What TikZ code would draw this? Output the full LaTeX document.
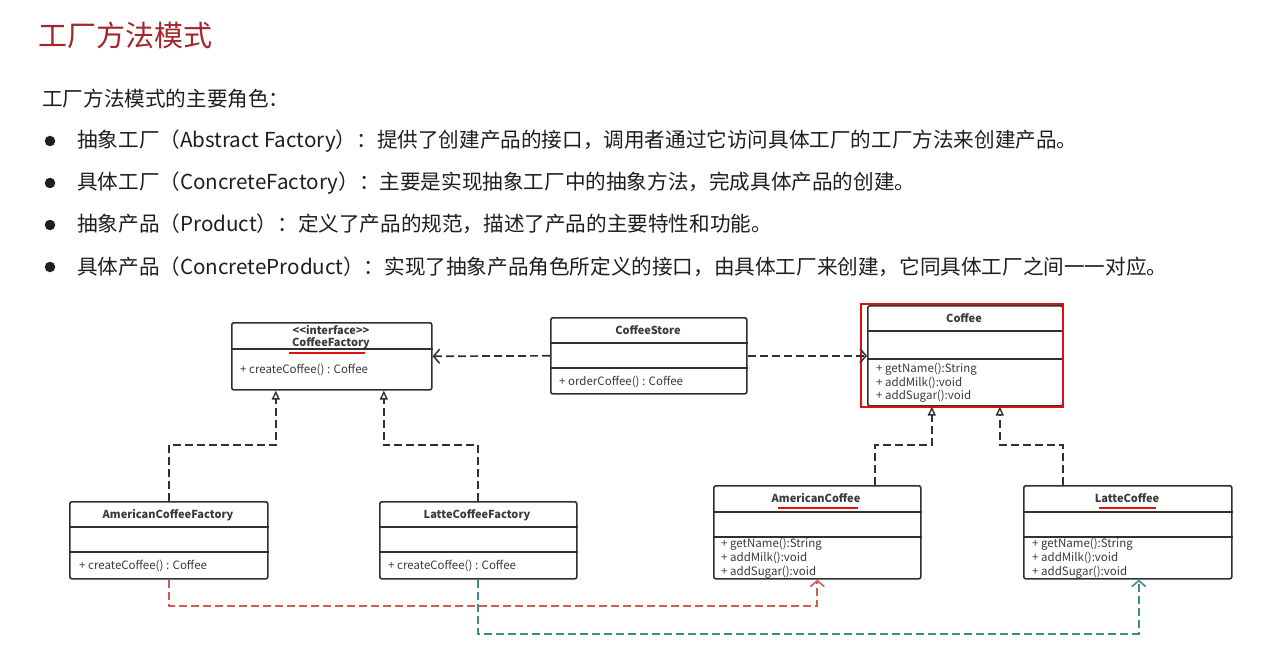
\documentclass[tikz,border=0pt]{standalone}
\usepackage{fontspec}
\setmainfont{Noto Sans CJK SC}
\newfontfamily\uml{Noto Sans CJK SC}
\usetikzlibrary{arrows.meta,calc}
\definecolor{titlered}{HTML}{A3262B}
\definecolor{txt}{HTML}{1E1E1E}
\definecolor{umltxt}{HTML}{3A3A3A}
\definecolor{linec}{HTML}{303030}
\definecolor{mark}{HTML}{E01010}
\definecolor{redl}{HTML}{D45A58}
\definecolor{teal}{HTML}{3E8E8C}
\tikzset{
  box/.style={draw=linec, line width=1.6pt, rounded corners=2pt, fill=white, anchor=north west, inner sep=0pt},
  divl/.style={draw=linec, line width=1.4pt},
  ttl/.style={font=\uml\fontsize{11}{13}\selectfont\bfseries, text=umltxt, inner sep=0pt},
  mth/.style={font=\uml\fontsize{11.5}{13}\selectfont, text=umltxt, anchor=west, inner sep=0pt},
  dep/.style={draw=linec, line width=1.7pt, dash pattern=on 8pt off 4pt, -{Straight Barb[length=6pt,width=14pt,line width=1.5pt]}},
  inh/.style={draw=linec, line width=1.7pt, dash pattern=on 8pt off 4pt, -{Triangle[open,length=9pt,width=8pt,fill=white,line width=1.4pt]}},
  reddep/.style={draw=redl, line width=1.9pt, dash pattern=on 8pt off 4pt, -{Straight Barb[length=6pt,width=14pt,line width=1.6pt]}},
  tealdep/.style={draw=teal, line width=1.9pt, dash pattern=on 8pt off 4pt, -{Straight Barb[length=6pt,width=14pt,line width=1.6pt]}},
  body/.style={font=\fontsize{20.6}{23}\selectfont, text=txt, anchor=base west, inner sep=0pt},
  bullet/.style={circle, fill=txt, inner sep=0pt, minimum size=10.5pt},
  redmark/.style={draw=mark, line width=2.8pt},
}
\begin{document}
\begin{tikzpicture}[x=1pt,y=-1pt]
\useasboundingbox[fill=white] (0,0) rectangle (1266,647);

% heading texts
\node[font=\fontsize{29}{32}\selectfont, text=titlered, anchor=base west, inner sep=0pt] (title) at (38,47) {工厂方法模式};
\node[body] (sub) at (42,107) {工厂方法模式的主要角色：};
\node[bullet] (b1) at (50,141) {};
\node[bullet] (b2) at (50,183) {};
\node[bullet] (b3) at (50,225) {};
\node[bullet] (b4) at (50,267) {};
\node[body] (l1) at (77,148) {抽象工厂（Abstract Factory）：提供了创建产品的接口，调用者通过它访问具体工厂的工厂方法来创建产品。};
\node[body] (l2) at (77,190) {具体工厂（ConcreteFactory）：主要是实现抽象工厂中的抽象方法，完成具体产品的创建。};
\node[body] (l3) at (77,232) {抽象产品（Product）：定义了产品的规范，描述了产品的主要特性和功能。};
\node[body] (l4) at (77,274) {具体产品（ConcreteProduct）：实现了抽象产品角色所定义的接口，由具体工厂来创建，它同具体工厂之间一一对应。};

% CoffeeFactory
\node[box, minimum width=200pt, minimum height=67pt] (cf) at (231,322) {};
\draw[divl] ($(cf.north west)+(0,27)$) -- ($(cf.north east)+(0,27)$);
\node[ttl] (cft1) at (331,330) {<<interface>>};
\node[ttl] (cft2) at (331,343) {CoffeeFactory};
\node[mth] (cfm) at (240,370) {+ createCoffee() : Coffee};
\draw[redmark] (289,353) -- (365,353);

% CoffeeStore
\node[box, minimum width=196pt, minimum height=76pt] (cs) at (550,317) {};
\draw[divl] ($(cs.north west)+(0,26)$) -- ($(cs.north east)+(0,26)$);
\draw[divl] ($(cs.north west)+(0,51)$) -- ($(cs.north east)+(0,51)$);
\node[ttl] (cst) at (648,330) {CoffeeStore};
\node[mth] (csm) at (559,382) {+ orderCoffee() : Coffee};

% Coffee
\node[box, minimum width=195pt, minimum height=100pt] (cof) at (867,305) {};
\draw[divl] ($(cof.north west)+(0,26)$) -- ($(cof.north east)+(0,26)$);
\draw[divl] ($(cof.north west)+(0,54)$) -- ($(cof.north east)+(0,54)$);
\node[ttl] (coft) at (964,318) {Coffee};
\node[mth] (cofm1) at (876,369) {+ getName():String};
\node[mth] (cofm2) at (876,383) {+ addMilk():void};
\node[mth] (cofm3) at (876,396) {+ addSugar():void};
\draw[draw=mark, line width=2.4pt] (861,304) rectangle (1063,407);

% AmericanCoffeeFactory
\node[box, minimum width=198pt, minimum height=77pt] (acf) at (69,501) {};
\draw[divl] ($(acf.north west)+(0,26)$) -- ($(acf.north east)+(0,26)$);
\draw[divl] ($(acf.north west)+(0,51)$) -- ($(acf.north east)+(0,51)$);
\node[ttl] (acft) at (168,515) {AmericanCoffeeFactory};
\node[mth] (acfm) at (79,566) {+ createCoffee() : Coffee};

% LatteCoffeeFactory
\node[box, minimum width=197pt, minimum height=77pt] (lcf) at (379,501) {};
\draw[divl] ($(lcf.north west)+(0,26)$) -- ($(lcf.north east)+(0,26)$);
\draw[divl] ($(lcf.north west)+(0,51)$) -- ($(lcf.north east)+(0,51)$);
\node[ttl] (lcft) at (477,515) {LatteCoffeeFactory};
\node[mth] (lcfm) at (388,566) {+ createCoffee() : Coffee};

% AmericanCoffee
\node[box, minimum width=207pt, minimum height=93pt] (ac) at (713,485) {};
\draw[divl] ($(ac.north west)+(0,27)$) -- ($(ac.north east)+(0,27)$);
\draw[divl] ($(ac.north west)+(0,52)$) -- ($(ac.north east)+(0,52)$);
\node[ttl] (act) at (816,498) {AmericanCoffee};
\node[mth] (acm1) at (721,544) {+ getName():String};
\node[mth] (acm2) at (721,558) {+ addMilk():void};
\node[mth] (acm3) at (721,572) {+ addSugar():void};
\draw[redmark] (778,508) -- (858,508);

% LatteCoffee
\node[box, minimum width=208pt, minimum height=93pt] (lc) at (1023,485) {};
\draw[divl] ($(lc.north west)+(0,27)$) -- ($(lc.north east)+(0,27)$);
\draw[divl] ($(lc.north west)+(0,52)$) -- ($(lc.north east)+(0,52)$);
\node[ttl] (lct) at (1127,498) {LatteCoffee};
\node[mth] (lcm1) at (1032,544) {+ getName():String};
\node[mth] (lcm2) at (1032,558) {+ addMilk():void};
\node[mth] (lcm3) at (1032,572) {+ addSugar():void};
\draw[redmark] (1099,508) -- (1156,508);

% attach points
\coordinate (cfA) at ([xshift=-56pt]cf.south);
\coordinate (cfB) at ([xshift=52pt]cf.south);
\coordinate (cofA) at ([xshift=-33.5pt]cof.south);
\coordinate (cofB) at ([xshift=34.5pt]cof.south);
\coordinate (acTop) at ([xshift=58pt]ac.north);
\coordinate (lcTop) at ([xshift=-65pt]lc.north);
\coordinate (lcBot) at ([xshift=11pt]lc.south);

% dependencies
\draw[dep] (cs.west) -- (cf.east);
\draw[dep] (cs.east) -- (cof.west);

% realisations
\draw[inh] (acf.north) -- ++(0,-56) -| (cfA);
\draw[inh] (lcf.north) -- ++(0,-56) -| (cfB);
\draw[inh] (acTop) -- ++(0,-40) -| (cofA);
\draw[inh] (lcTop) -- ++(0,-40) -| (cofB);

% creation links
\draw[reddep] (acf.south) -- ++(0,26) -| (ac.south);
\draw[tealdep] (lcf.south) -- ++(0,54) -| (lcBot);
\end{tikzpicture}
\end{document}
